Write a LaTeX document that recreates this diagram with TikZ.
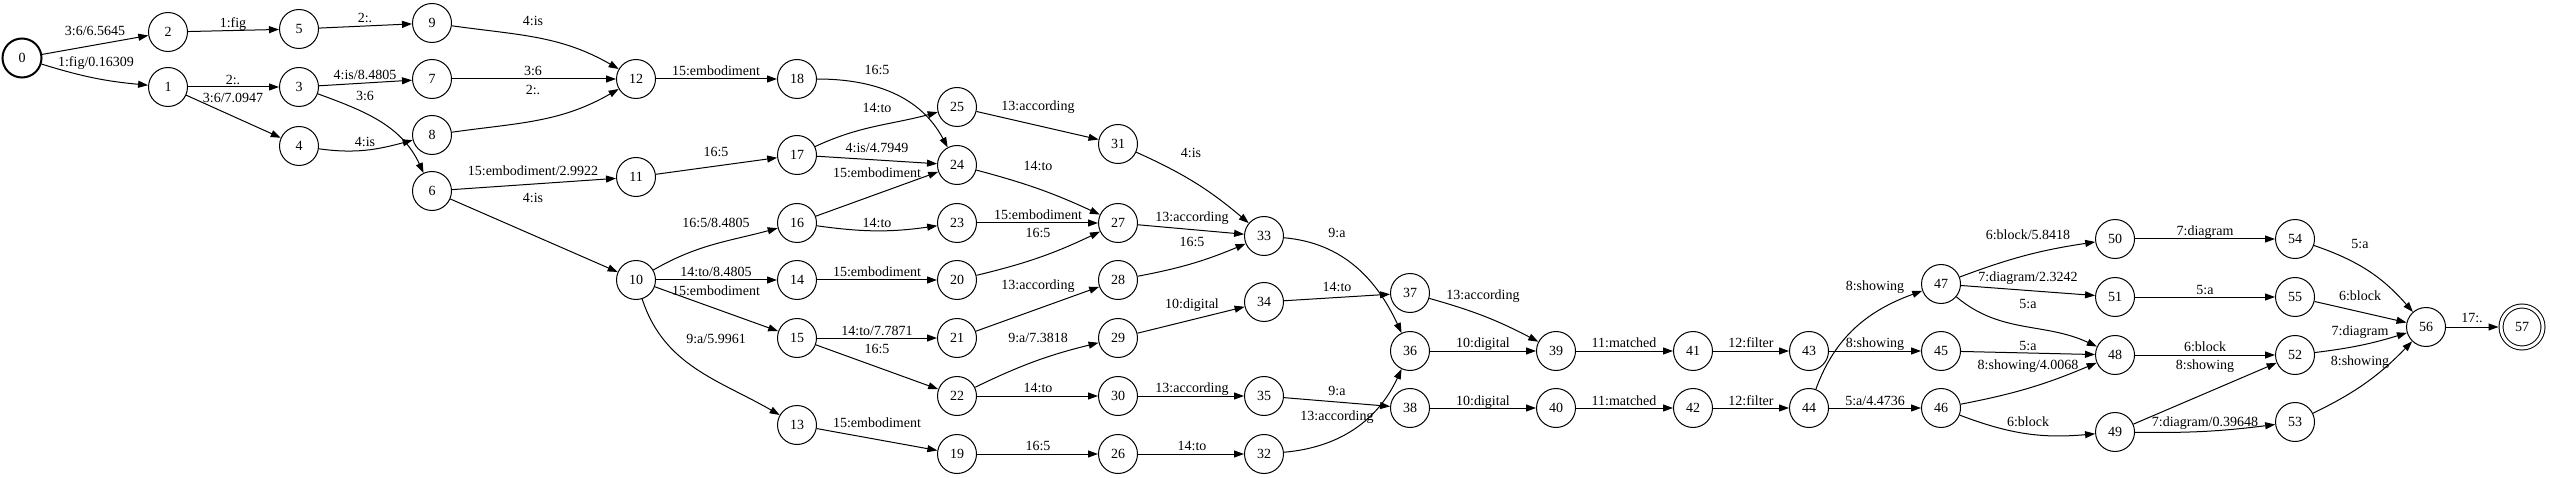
\documentclass[tikz,border=0pt]{standalone}
\usepackage{fontspec}
\setmainfont{Liberation Serif}
\usetikzlibrary{arrows.meta}

\begin{document}
\begin{tikzpicture}[x=1pt,y=-1pt,>={Triangle[length=10pt,width=7pt]},
  st/.style={circle,draw,line width=1pt,minimum size=39pt,inner sep=0pt,font=\fontsize{14}{16}\selectfont},
  ststart/.style={st,line width=2pt},
  stfinal/.style={st,double,double distance=3pt,minimum size=42pt,outer sep=2.5pt},
  lbl/.style={font=\fontsize{14}{16}\selectfont,inner sep=0pt,text height=9.5pt,text depth=3pt},
  arrow/.style={->,line width=1pt}
]
\useasboundingbox (0,0) rectangle (2550,478);
\node[ststart] (s0) at (22,58) {0};
\node[st] (s2) at (168,32) {2};
\node[st] (s1) at (168,87) {1};
\node[st] (s5) at (299,29) {5};
\node[st] (s3) at (299,87) {3};
\node[st] (s4) at (299,146) {4};
\node[st] (s9) at (432,23) {9};
\node[st] (s7) at (432,79) {7};
\node[st] (s8) at (432,135) {8};
\node[st] (s6) at (432,191) {6};
\node[st] (s12) at (636,79) {12};
\node[st] (s11) at (636,177) {11};
\node[st] (s10) at (636,280) {10};
\node[st] (s18) at (797,79) {18};
\node[st] (s17) at (797,155) {17};
\node[st] (s16) at (797,223) {16};
\node[st] (s14) at (797,280) {14};
\node[st] (s15) at (797,338) {15};
\node[st] (s13) at (797,425) {13};
\node[st] (s25) at (957,107) {25};
\node[st] (s24) at (957,165) {24};
\node[st] (s23) at (957,223) {23};
\node[st] (s20) at (957,280) {20};
\node[st] (s21) at (957,338) {21};
\node[st] (s22) at (957,396) {22};
\node[st] (s19) at (957,454) {19};
\node[st] (s31) at (1118,144) {31};
\node[st] (s27) at (1118,223) {27};
\node[st] (s28) at (1118,280) {28};
\node[st] (s29) at (1118,338) {29};
\node[st] (s30) at (1118,396) {30};
\node[st] (s26) at (1118,454) {26};
\node[st] (s33) at (1264,236) {33};
\node[st] (s34) at (1264,302) {34};
\node[st] (s35) at (1264,396) {35};
\node[st] (s32) at (1264,454) {32};
\node[st] (s37) at (1410,293) {37};
\node[st] (s36) at (1410,351) {36};
\node[st] (s38) at (1410,408) {38};
\node[st] (s39) at (1556,351) {39};
\node[st] (s40) at (1556,408) {40};
\node[st] (s41) at (1693,351) {41};
\node[st] (s42) at (1693,408) {42};
\node[st] (s43) at (1809,351) {43};
\node[st] (s44) at (1809,408) {44};
\node[st] (s47) at (1941,284) {47};
\node[st] (s45) at (1941,351) {45};
\node[st] (s46) at (1941,408) {46};
\node[st] (s50) at (2115,239) {50};
\node[st] (s51) at (2115,297) {51};
\node[st] (s48) at (2115,355) {48};
\node[st] (s49) at (2115,432) {49};
\node[st] (s54) at (2295,239) {54};
\node[st] (s55) at (2295,297) {55};
\node[st] (s52) at (2295,355) {52};
\node[st] (s53) at (2295,422) {53};
\node[st] (s56) at (2426,327) {56};
\node[stfinal] (s57) at (2522,327) {57};
\draw[arrow] (s0) -- (s2) node[lbl] (e0-2) at (95,32) {3:6/6.5645};
\draw[arrow] (s0) to[bend right=6] (s1) node[lbl] (e0-1) at (96,63) {1:fig/0.16309};
\draw[arrow] (s2) -- (s5) node[lbl] (e2-5) at (233,24) {1:fig};
\draw[arrow] (s5) -- (s9) node[lbl] (e5-9) at (365,19) {2:.};
\draw[arrow] (s1) -- (s3) node[lbl] (e1-3) at (233,81) {2:.};
\draw[arrow] (s1) -- (s4) node[lbl] (e1-4) at (233,99) {3:6/7.0947};
\draw[arrow] (s3) -- (s7) node[lbl] (e3-7) at (365,76) {4:is/8.4805};
\draw[arrow] (s3) to[out=-20,in=115] (s6) node[lbl] (e3-6) at (365,97) {3:6};
\draw[arrow] (s4) to[out=-8,in=195] (s8) node[lbl] (e4-8) at (365,143) {4:is};
\draw[arrow] (s9) to[out=-8,in=150] (s12) node[lbl] (e9-12) at (533,22) {4:is};
\draw[arrow] (s7) -- (s12) node[lbl] (e7-12) at (533,72) {3:6};
\draw[arrow] (s8) to[out=8,in=-150] (s12) node[lbl] (e8-12) at (533,91) {2:.};
\draw[arrow] (s6) -- (s11) node[lbl] (e6-11) at (533,172) {15:embodiment/2.9922};
\draw[arrow] (s6) -- (s10) node[lbl] (e6-10) at (533,199) {4:is};
\draw[arrow] (s12) -- (s18) node[lbl] (e12-18) at (716,72) {15:embodiment};
\draw[arrow] (s11) -- (s17) node[lbl] (e11-17) at (716,153) {16:5};
\draw[arrow] (s10) to[out=30,in=195] (s16) node[lbl] (e10-16) at (716,224) {16:5/8.4805};
\draw[arrow] (s10) -- (s14) node[lbl] (e10-14) at (716,273) {14:to/8.4805};
\draw[arrow] (s10) -- (s15) node[lbl] (e10-15) at (716,292) {15:embodiment};
\draw[arrow] (s10) to[out=-72,in=150] (s13) node[lbl] (e10-13) at (716,340) {9:a/5.9961};
\draw[arrow] (s18) to[out=0,in=118] (s24) node[lbl] (e18-24) at (877,71) {16:5};
\draw[arrow] (s17) to[out=25,in=195] (s25) node[lbl] (e17-25) at (877,109) {14:to};
\draw[arrow] (s17) -- (s24) node[lbl] (e17-24) at (877,149) {4:is/4.7949};
\draw[arrow] (s16) -- (s24) node[lbl] (e16-24) at (877,174) {15:embodiment};
\draw[arrow] (s16) to[bend right=8] (s23) node[lbl] (e16-23) at (877,224) {14:to};
\draw[arrow] (s14) -- (s20) node[lbl] (e14-20) at (877,273) {15:embodiment};
\draw[arrow] (s15) -- (s21) node[lbl] (e15-21) at (877,332) {14:to/7.7871};
\draw[arrow] (s15) -- (s22) node[lbl] (e15-22) at (877,350) {16:5};
\draw[arrow] (s13) -- (s19) node[lbl] (e13-19) at (877,424) {15:embodiment};
\draw[arrow] (s25) -- (s31) node[lbl] (e25-31) at (1038,107) {13:according};
\draw[arrow] (s24) to[bend left=5] (s27) node[lbl] (e24-27) at (1038,167) {14:to};
\draw[arrow] (s23) -- (s27) node[lbl] (e23-27) at (1038,216) {15:embodiment};
\draw[arrow] (s20) to[bend right=6] (s27) node[lbl] (e20-27) at (1038,234) {16:5};
\draw[arrow] (s21) -- (s28) node[lbl] (e21-28) at (1038,286) {13:according};
\draw[arrow] (s22) to[bend left=6] (s29) node[lbl] (e22-29) at (1038,339) {9:a/7.3818};
\draw[arrow] (s22) -- (s30) node[lbl] (e22-30) at (1038,389) {14:to};
\draw[arrow] (s19) -- (s26) node[lbl] (e19-26) at (1038,447) {16:5};
\draw[arrow] (s31) to[bend left=8] (s33) node[lbl] (e31-33) at (1191,154) {4:is};
\draw[arrow] (s27) -- (s33) node[lbl] (e27-33) at (1192,218) {13:according};
\draw[arrow] (s28) to[bend right=6] (s33) node[lbl] (e28-33) at (1192,243) {16:5};
\draw[arrow] (s29) -- (s34) node[lbl] (e29-34) at (1192,305) {10:digital};
\draw[arrow] (s30) -- (s35) node[lbl] (e30-35) at (1192,389) {13:according};
\draw[arrow] (s26) -- (s32) node[lbl] (e26-32) at (1192,447) {14:to};
\draw[arrow] (s33) to[out=-5,in=115] (s36) node[lbl] (e33-36) at (1337,234) {9:a};
\draw[arrow] (s34) -- (s37) node[lbl] (e34-37) at (1337,288) {14:to};
\draw[arrow] (s35) -- (s38) node[lbl] (e35-38) at (1337,392) {9:a};
\draw[arrow] (s32) to[out=5,in=-115] (s36) node[lbl] (e32-36) at (1337,417) {13:according};
\draw[arrow] (s37) to[bend left=6] (s39) node[lbl] (e37-39) at (1483,296) {13:according};
\draw[arrow] (s36) -- (s39) node[lbl] (e36-39) at (1483,344) {10:digital};
\draw[arrow] (s38) -- (s40) node[lbl] (e38-40) at (1483,402) {10:digital};
\draw[arrow] (s39) -- (s41) node[lbl] (e39-41) at (1624,344) {11:matched};
\draw[arrow] (s40) -- (s42) node[lbl] (e40-42) at (1624,402) {11:matched};
\draw[arrow] (s41) -- (s43) node[lbl] (e41-43) at (1751,344) {12:filter};
\draw[arrow] (s42) -- (s44) node[lbl] (e42-44) at (1751,402) {12:filter};
\draw[arrow] (s43) -- (s45) node[lbl] (e43-45) at (1875,344) {8:showing};
\draw[arrow] (s44) to[out=70,in=200] (s47) node[lbl] (e44-47) at (1875,287) {8:showing};
\draw[arrow] (s44) -- (s46) node[lbl] (e44-46) at (1875,402) {5:a/4.4736};
\draw[arrow] (s47) to[bend left=6] (s50) node[lbl] (e47-50) at (2028,236) {6:block/5.8418};
\draw[arrow] (s47) -- (s51) node[lbl] (e47-51) at (2028,278) {7:diagram/2.3242};
\draw[arrow] (s47) to[out=-40,in=155] (s48) node[lbl] (e47-48) at (2028,305) {5:a};
\draw[arrow] (s45) -- (s48) node[lbl] (e45-48) at (2028,347) {5:a};
\draw[arrow] (s46) to[bend right=6] (s48) node[lbl] (e46-48) at (2028,366) {8:showing/4.0068};
\draw[arrow] (s46) to[bend right=13] (s49) node[lbl] (e46-49) at (2028,423) {6:block};
\draw[arrow] (s50) -- (s54) node[lbl] (e50-54) at (2205,232) {7:diagram};
\draw[arrow] (s51) -- (s55) node[lbl] (e51-55) at (2205,291) {5:a};
\draw[arrow] (s48) -- (s52) node[lbl] (e48-52) at (2205,348) {6:block};
\draw[arrow] (s49) -- (s52) node[lbl] (e49-52) at (2205,366) {8:showing};
\draw[arrow] (s49) to[bend right=4] (s53) node[lbl] (e49-53) at (2205,423) {7:diagram/0.39648};
\draw[arrow] (s54) to[bend left=15] (s56) node[lbl] (e54-56) at (2360,245) {5:a};
\draw[arrow] (s55) -- (s56) node[lbl] (e55-56) at (2360,297) {6:block};
\draw[arrow] (s52) to[bend right=5] (s56) node[lbl] (e52-56) at (2360,332) {7:diagram};
\draw[arrow] (s53) to[bend right=10] (s56) node[lbl] (e53-56) at (2360,362) {8:showing};
\draw[arrow] (s56) -- (s57) node[lbl] (e56-57) at (2472,319) {17:.};
\end{tikzpicture}
\end{document}
